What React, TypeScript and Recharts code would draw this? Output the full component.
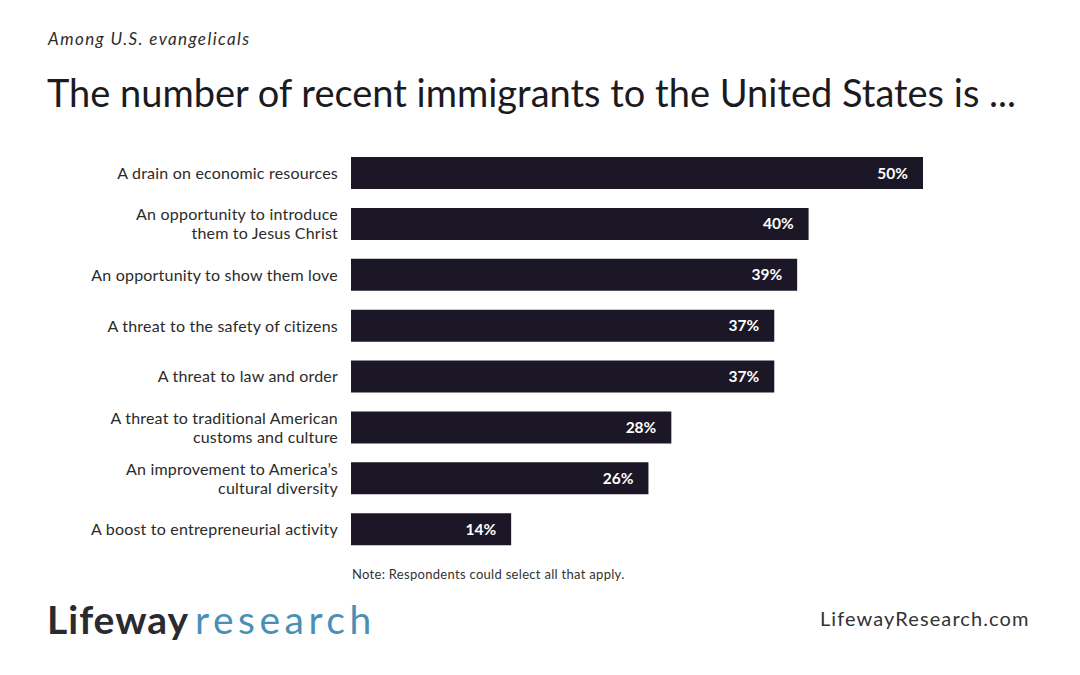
import { BarChart, Bar, XAxis, YAxis, LabelList } from 'recharts';

const categories = [
  'A drain on economic resources',
  'An opportunity to introduce|them to Jesus Christ',
  'An opportunity to show them love',
  'A threat to the safety of citizens',
  'A threat to law and order',
  'A threat to traditional American|customs and culture',
  'An improvement to America\u2019s|cultural diversity',
  'A boost to entrepreneurial activity',
];
const values = [50, 40, 39, 37, 37, 28, 26, 14];

const data = categories.map((name, i) => ({ name, value: values[i] }));

const FONT = 'Lato, "Open Sans", sans-serif';
const BAR = '#1b1726';

function CategoryTick({ y, payload }: any) {
  const lines = String(payload.value).split('|');
  const lh = 19;
  const start = -((lines.length - 1) * lh) / 2;
  const x = 338;
  return (
    <text
      x={x}
      y={y}
      textAnchor="end"
      fill="#2b2b2b"
      fontSize={16}
      fontFamily={FONT}
      style={{ letterSpacing: 0.2 }}
    >
      {lines.map((line, i) => (
        <tspan key={i} x={x} dy={i === 0 ? start + 5.5 : lh}>
          {line}
        </tspan>
      ))}
    </text>
  );
}

function ValueLabel({ x, y, width, height, value }: any) {
  return (
    <text
      x={x + width - 15}
      y={y + height / 2 + 5.5}
      textAnchor="end"
      fill="#ffffff"
      fontSize={15.5}
      fontWeight={700}
      fontFamily={FONT}
    >
      {value}%
    </text>
  );
}

export default function App() {
  return (
    <div
      style={{
        position: 'fixed',
        left: 0,
        top: 0,
        width: 1080,
        height: 675,
        background: '#ffffff',
        fontFamily: FONT,
      }}
    >
      <div
        style={{
          position: 'absolute',
          left: 48,
          top: 28,
          fontSize: 17,
          fontStyle: 'italic',
          color: '#2b2b2b',
          letterSpacing: 1.4,
        }}
      >
        Among U.S. evangelicals
      </div>
      <div
        style={{
          position: 'absolute',
          left: 47,
          top: 69,
          fontSize: 38,
          lineHeight: '46px',
          color: '#1b1b1f',
          letterSpacing: 0,
        }}
      >
        The number of recent immigrants to the United States is ...
      </div>

      <div style={{ position: 'absolute', left: 0, top: 148 }}>
        <BarChart
          width={1080}
          height={407}
          layout="vertical"
          data={data}
          margin={{ top: 0, right: 157, bottom: 0, left: 0 }}
          barSize={32}
        >
          <XAxis type="number" domain={[0, 50]} hide />
          <YAxis
            type="category"
            dataKey="name"
            width={351}
            axisLine={false}
            tickLine={false}
            tick={<CategoryTick />}
            interval={0}
          />
          <Bar dataKey="value" fill={BAR} isAnimationActive={false}>
            <LabelList dataKey="value" content={<ValueLabel />} />
          </Bar>
        </BarChart>
      </div>

      <div
        style={{
          position: 'absolute',
          left: 352,
          top: 566,
          fontSize: 13,
          color: '#333333',
          letterSpacing: 0.3,
        }}
      >
        Note: Respondents could select all that apply.
      </div>

      <div
        style={{
          position: 'absolute',
          left: 47,
          top: 596,
          fontSize: 39,
          lineHeight: '46px',
          whiteSpace: 'nowrap',
        }}
      >
        <span style={{ fontWeight: 700, color: '#2a2a30', letterSpacing: 1 }}>Lifeway</span>
        <span style={{ color: '#4a8fb8', letterSpacing: 4.5, marginLeft: 6 }}>research</span>
      </div>
      <div
        style={{
          position: 'absolute',
          left: 820,
          top: 606,
          fontSize: 20,
          color: '#333333',
          letterSpacing: 1.1,
        }}
      >
        LifewayResearch.com
      </div>
    </div>
  );
}
